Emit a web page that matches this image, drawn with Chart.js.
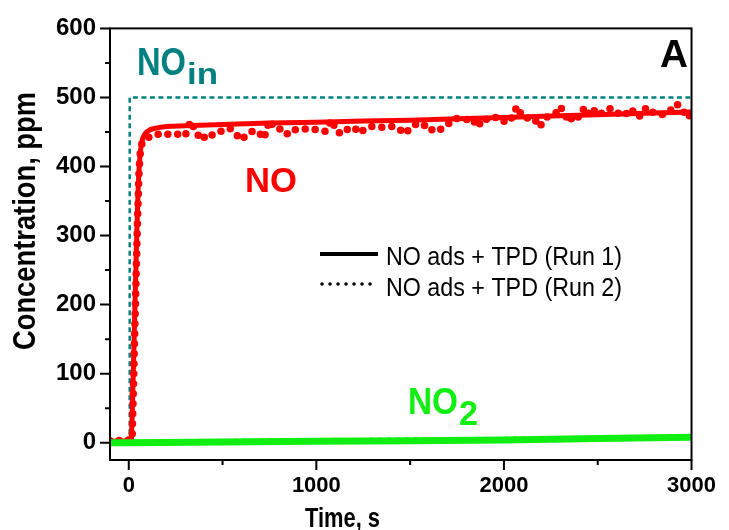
<!DOCTYPE html>
<html>
<head>
<meta charset="utf-8">
<script src="https://cdn.jsdelivr.net/npm/chart.js@4.4.0/dist/chart.umd.min.js"></script>
<style>
  html, body { margin: 0; padding: 0; background: #fff; }
  #wrap { width: 729px; height: 530px; position: relative; }
</style>
</head>
<body>
<div id="wrap"><canvas id="chart"></canvas></div>
<script>
// NO, run 1 (solid line)
const run1Time = [-100, -50, 0, 14, 20, 26, 32, 38, 44, 50, 56, 62, 68, 76, 86, 100, 120, 150, 200, 300,
  500, 750, 1000, 1250, 1500, 1750, 2000, 2250, 2500, 2750, 3000];
const run1NO = [2, 2, 3, 4, 58, 122, 188, 252, 316, 368, 402, 422, 434, 442, 447, 451, 454, 456, 458, 459,
  461, 463, 464, 466, 467, 469, 471, 473, 475, 477, 479];

// NO, run 2 (dotted line)
const run2Time = [-100, -80, -60, -40, -20, 0, 12, 18, 30, 45, 55, 62, 70, 80, 90,
  120, 150, 180, 210, 240, 270, 300, 330, 360, 390, 420, 450, 480, 510, 540, 570, 600, 630, 660, 690,
  720, 750, 780, 810, 840, 870, 900, 930, 960, 990, 1020, 1050, 1080, 1110, 1140, 1170, 1200, 1230,
  1260, 1290, 1320, 1350, 1380, 1410, 1440, 1470, 1500, 1530, 1560, 1590, 1620, 1650, 1680, 1710,
  1740, 1770, 1800, 1830, 1860, 1890, 1920, 1950, 1980, 2010, 2040, 2070, 2100, 2130, 2160, 2190,
  2220, 2250, 2280, 2300, 2330, 2350, 2370, 2400, 2430, 2460, 2490, 2520, 2550, 2580, 2610, 2640,
  2680, 2700, 2730, 2760, 2800, 2850, 2880, 2920, 2950, 2980, 3000];
const run2NO = [3, 1, 4, 2, 5, 4, 6, 5, 140, 305, 395, 422, 433, 438, 440,
  444, 447, 445, 447, 448, 446, 444, 466, 449, 438, 448, 445, 449, 454, 455, 447, 438, 447, 451, 451,
  440, 467, 455, 454, 446, 454, 453, 454, 455, 454, 452, 451, 468, 450, 447, 455, 457, 448,
  455, 458, 458, 457, 458, 458, 455, 447, 455, 461, 457, 461, 452, 451, 458, 463,
  470, 468, 468, 470, 457, 470, 467, 471, 471, 463, 470, 487, 471, 470, 470, 457,
  470, 475, 478, 487, 473, 464, 475, 471, 486, 473, 484, 477, 483, 484, 477, 473,
  484, 473, 473, 486, 477, 475, 479, 491, 483, 470, 478];

// NO2, both runs
const no2Time = [-100, 0, 500, 1000, 1500, 2000, 2500, 3000];
const no2Run1 = [0, 0, 1, 2, 3, 4, 6, 8];
const no2Run2 = [0, 0.5, 1.5, 2.5, 3.5, 4.5, 6, 8];

// NO at the inlet
const noInTime = [5, 5, 3000];
const noIn = [0, 500, 500];

const xTicks = [0, 500, 1000, 1500, 2000, 2500, 3000];
const yTicks = [0, 50, 100, 150, 200, 250, 300, 350, 400, 450, 500, 550, 600];
const legendLabels = ['NO ads + TPD (Run 1)', 'NO ads + TPD (Run 2)'];
const xTitle = 'Time, s';
const yTitle = 'Concentration, ppm';

const FAMILY = "'Liberation Sans', Arial, sans-serif";
const RED = '#ff0000', GREEN = '#11ee11', TEAL = '#008080';

const pts = (xs, ys) => xs.map((x, i) => ({ x: x, y: ys[i] }));

// draws text squeezed/stretched to a measured width
function fitText(ctx, str, x, y, size, width, weight, color, angle) {
  ctx.save();
  ctx.font = weight + ' ' + size + 'px ' + FAMILY;
  const w = ctx.measureText(str).width;
  ctx.translate(x, y);
  if (angle) ctx.rotate(angle);
  ctx.scale(width / w, 1);
  ctx.fillStyle = color;
  ctx.textAlign = 'left';
  ctx.textBaseline = 'alphabetic';
  ctx.fillText(str, 0, 0);
  ctx.restore();
}

const decorations = {
  id: 'decorations',
  afterDraw(chart) {
    const { ctx, chartArea: a, scales: { x, y } } = chart;
    ctx.save();
    ctx.strokeStyle = '#000';
    ctx.lineWidth = 2;
    ctx.strokeRect(a.left, a.top, a.right - a.left, a.bottom - a.top);

    ctx.beginPath();
    xTicks.forEach(v => {
      const px = x.getPixelForValue(v);
      ctx.moveTo(px, a.bottom);
      ctx.lineTo(px, a.bottom + (v % 1000 === 0 ? 10 : 5));
    });
    yTicks.forEach(v => {
      const py = y.getPixelForValue(v);
      ctx.moveTo(a.left, py);
      ctx.lineTo(a.left - (v % 100 === 0 ? 10 : 5), py);
    });
    ctx.stroke();

    // axis titles
    fitText(ctx, xTitle, 305, 527, 28, 75, 'bold', '#000');
    fitText(ctx, yTitle, 35, 350, 32, 258, 'bold', '#000', -Math.PI / 2);

    // curve labels
    fitText(ctx, 'NO', 137, 75, 38, 49, 'bold', TEAL);
    fitText(ctx, 'in', 187, 84, 29, 31, 'bold', TEAL);
    fitText(ctx, 'NO', 245, 192, 35, 52, 'bold', RED);
    fitText(ctx, 'NO', 408, 414, 37, 50, 'bold', GREEN);
    fitText(ctx, '2', 459, 425, 35, 19, 'bold', GREEN);
    fitText(ctx, 'A', 660, 67, 39, 28, 'bold', '#000');

    // legend
    ctx.strokeStyle = '#000';
    ctx.lineWidth = 4;
    ctx.beginPath();
    ctx.moveTo(320, 254);
    ctx.lineTo(378, 254);
    ctx.stroke();
    ctx.lineWidth = 3.5;
    ctx.lineCap = 'round';
    ctx.setLineDash([0, 8]);
    ctx.beginPath();
    ctx.moveTo(322, 284);
    ctx.lineTo(372, 284);
    ctx.stroke();
    ctx.setLineDash([]);
    fitText(ctx, legendLabels[0], 386, 265, 25, 236, 'normal', '#000');
    fitText(ctx, legendLabels[1], 386, 296, 25, 236, 'normal', '#000');
    ctx.restore();
  }
};

const ctx = document.getElementById('chart').getContext('2d');
new Chart(ctx, {
  type: 'line',
  data: {
    datasets: [
      { data: pts(no2Time, no2Run1), borderColor: GREEN, borderWidth: 7, pointRadius: 0 },
      { data: pts(no2Time, no2Run2), borderColor: GREEN, borderWidth: 6, pointRadius: 0,
        borderDash: [0, 9], borderCapStyle: 'round' },
      { data: pts(run1Time, run1NO), borderColor: RED, borderWidth: 5, pointRadius: 0 },
      { data: pts(run2Time, run2NO), borderColor: RED, borderWidth: 7.5, pointRadius: 0,
        borderDash: [0, 10], borderCapStyle: 'round' },
      { data: pts(noInTime, noIn), borderColor: TEAL, borderWidth: 2.5, pointRadius: 0,
        borderDash: [5, 3.5] }
    ]
  },
  options: {
    responsive: true,
    maintainAspectRatio: false,
    animation: false,
    layout: { padding: { left: 0, right: 32, top: 27, bottom: 0 } },
    plugins: { legend: { display: false }, tooltip: { enabled: false } },
    scales: {
      x: {
        type: 'linear', min: -100, max: 3000,
        afterBuildTicks: s => { s.ticks = xTicks.map(v => ({ value: v })); },
        afterFit: s => { s.height = 70; },
        grid: { display: false, drawTicks: false },
        border: { display: false },
        ticks: {
          autoSkip: false, maxRotation: 0, padding: 13, color: '#000',
          font: { family: FAMILY, size: 22, weight: 'bold' },
          callback: v => (v % 1000 === 0 ? String(v) : '')
        }
      },
      y: {
        type: 'linear', min: -25, max: 600,
        afterBuildTicks: s => { s.ticks = yTicks.map(v => ({ value: v })); },
        afterFit: s => { s.width = 110; },
        grid: { display: false, drawTicks: false },
        border: { display: false },
        ticks: {
          autoSkip: false, padding: 14, color: '#000',
          font: { family: FAMILY, size: 24, weight: 'bold' },
          callback: v => (v % 100 === 0 ? String(v) : '')
        }
      }
    }
  },
  plugins: [decorations]
});
</script>
</body>
</html>
